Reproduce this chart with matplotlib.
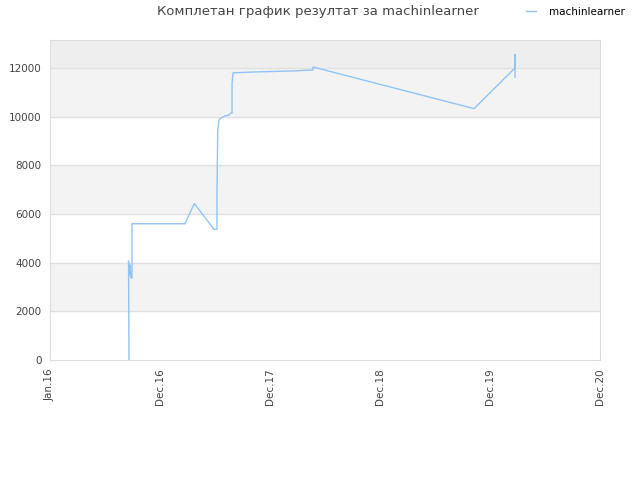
import matplotlib.pyplot as plt

# x positions in "years since Jan.16" on the evenly spaced tick scale
xs = [0.718, 0.714, 0.723, 0.727, 0.736, 0.745, 0.745, 1.227, 1.312, 1.491,
      1.518, 1.518, 1.525, 1.536, 1.555, 1.591, 1.627, 1.645, 1.655, 1.655,
      1.664, 1.882, 2.227, 2.391, 2.391, 3.855, 4.227, 4.227, 4.227]
ys = [0, 4070, 3500, 3900, 3370, 3370, 5600, 5600, 6430, 5370,
      5370, 6900, 9450, 9860, 9950, 10030, 10070, 10150, 10150, 11380,
      11800, 11840, 11880, 11920, 12040, 10330, 12000, 12550, 11620]

tick_pos = [0, 1, 2, 3, 4, 5]
tick_labels = ["Jan.16", "Dec.16", "Dec.17", "Dec.18", "Dec.19", "Dec.20"]
y_ticks = [0, 2000, 4000, 6000, 8000, 10000, 12000]
y_top = 13150

fig = plt.figure(figsize=(6.4, 4.8), dpi=100)
ax = fig.add_axes([50 / 640, 120 / 480, 550 / 640, 320 / 480])

# alternating bands
for lo in range(2000, 12000, 4000):
    ax.axhspan(lo, lo + 2000, color="#f3f3f3", zorder=0, lw=0)
ax.axhspan(12000, y_top, color="#eeeeee", zorder=0, lw=0)
for t in y_ticks[1:]:
    ax.axhline(t, color="#e0e0e0", lw=1, zorder=1)

ax.plot(xs, ys, color="#90c4f5", lw=1, label="machinlearner", zorder=3)

ax.set_xlim(0, 5)
ax.set_ylim(0, y_top)
ax.set_xticks(tick_pos)
ax.set_xticklabels(tick_labels, rotation=90)
ax.set_yticks(y_ticks)
ax.tick_params(length=0, labelsize=7.5, colors="#444444", pad=6)

for s in ax.spines.values():
    s.set_color("#dddddd")

fig.text(318 / 640, 1 - 12 / 480, "Комплетан график резултат за machinlearner",
         ha="center", va="center", fontsize=9.5, color="#444444")
fig.legend(loc="center", bbox_to_anchor=(575 / 640, 1 - 12 / 480), frameon=False,
           fontsize=7.5, handlelength=1.0, handletextpad=1.2)

fig.savefig("out.png", dpi=100)
